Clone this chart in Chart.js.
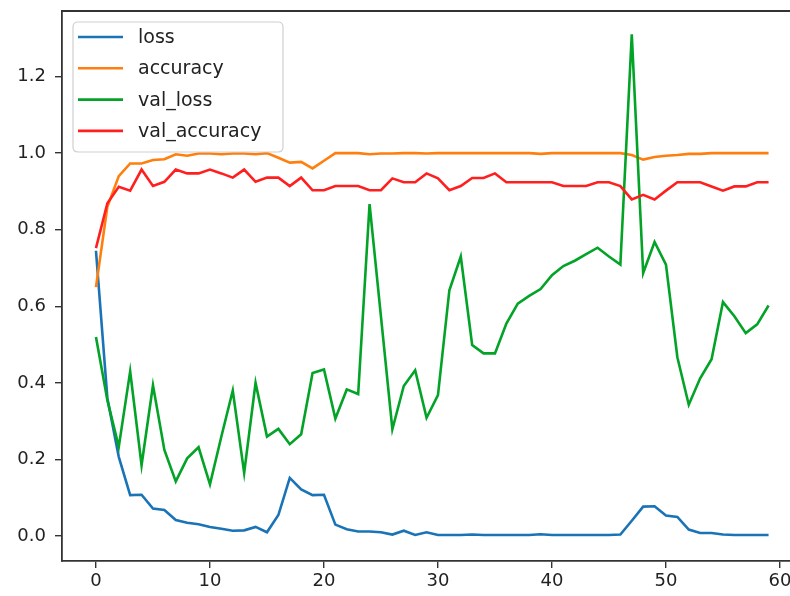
<!DOCTYPE html>
<html>
<head>
<meta charset="utf-8">
<script src="https://cdn.jsdelivr.net/npm/chart.js@4.4.1/dist/chart.umd.min.js"></script>
<style>
html,body{margin:0;padding:0;background:#fff;overflow:hidden;}
#wrap{width:790px;height:596px;position:relative;}
</style>
</head>
<body>
<div id="wrap"><canvas id="c" width="790" height="596"></canvas></div>
<script>
const epochs = Array.from({length:60},(_,i)=>i);
const seriesNames = ['loss','accuracy','val_loss','val_accuracy'];
const loss = [0.745,0.36,0.207,0.107,0.108,0.072,0.068,0.042,0.035,0.031,
  0.024,0.019,0.014,0.015,0.024,0.010,0.055,0.152,0.122,0.107,
  0.108,0.030,0.018,0.012,0.012,0.010,0.004,0.014,0.003,0.010,
  0.003,0.003,0.003,0.004,0.003,0.003,0.003,0.003,0.003,0.005,
  0.003,0.003,0.003,0.003,0.003,0.003,0.004,0.040,0.077,0.078,
  0.054,0.050,0.017,0.008,0.008,0.004,0.003,0.003,0.003,0.003];
const accuracy = [0.65,0.86,0.94,0.973,0.973,0.982,0.984,0.997,0.993,0.999,
  0.999,0.997,0.999,0.999,0.997,1.0,0.988,0.975,0.977,0.96,
  0.98,1.0,1.0,1.0,0.997,0.999,0.999,1.0,1.0,0.999,
  1.0,1.0,1.0,1.0,1.0,1.0,1.0,1.0,1.0,0.998,
  1.0,1.0,1.0,1.0,1.0,1.0,1.0,0.995,0.983,0.99,
  0.993,0.995,0.998,0.998,1.0,1.0,1.0,1.0,1.0,1.0];
const valLoss = [0.52,0.355,0.233,0.43,0.185,0.394,0.225,0.143,0.203,0.232,
  0.135,0.26,0.38,0.165,0.40,0.26,0.28,0.24,0.266,0.426,
  0.435,0.307,0.383,0.371,0.867,0.573,0.279,0.392,0.433,0.309,
  0.368,0.642,0.73,0.499,0.477,0.477,0.555,0.607,0.627,0.645,
  0.681,0.705,0.719,0.736,0.753,0.73,0.709,1.31,0.687,0.768,
  0.709,0.467,0.343,0.412,0.462,0.611,0.574,0.53,0.553,0.602];
const valAccuracy = [0.752,0.869,0.912,0.902,0.957,0.914,0.925,0.957,0.947,0.947,
  0.957,0.947,0.936,0.957,0.925,0.936,0.936,0.914,0.936,0.903,
  0.903,0.914,0.914,0.914,0.903,0.903,0.934,0.924,0.924,0.947,
  0.934,0.903,0.914,0.935,0.935,0.947,0.924,0.924,0.924,0.924,
  0.924,0.914,0.914,0.914,0.924,0.924,0.914,0.879,0.891,0.879,
  0.902,0.924,0.924,0.924,0.913,0.902,0.913,0.913,0.924,0.924];
const xTickValues = [0,10,20,30,40,50,60];
const yTickValues = [0.0,0.2,0.4,0.6,0.8,1.0,1.2];

const colors = ['#1a73b6','#ff7f0e','#03a327','#ff1f1f'];
const allSeries = [loss, accuracy, valLoss, valAccuracy];

const datasets = allSeries.map((vals,k)=>({
  label: seriesNames[k],
  data: vals.map((v,i)=>({x:epochs[i], y:v})),
  borderColor: colors[k],
  backgroundColor: colors[k],
  borderWidth: 2.6,
  pointRadius: 0,
  tension: 0,
  fill: false,
  order: 3-k
}));

const frame = {
  id:'frame',
  afterDatasetsDraw(chart){
    const {ctx, chartArea:a} = chart;
    ctx.save();
    ctx.strokeStyle = '#333';
    ctx.lineWidth = 1.8;
    ctx.beginPath();
    ctx.moveTo(a.left, a.top);
    ctx.lineTo(a.right, a.top);
    ctx.stroke();
    // legend
    const bx = a.left + 11, by = a.top + 11, bw = 210, bh = 130;
    ctx.fillStyle = 'rgba(255,255,255,0.85)';
    ctx.strokeStyle = '#d0d0d0';
    ctx.lineWidth = 1.2;
    const r = 5;
    ctx.beginPath();
    ctx.moveTo(bx+r,by);
    ctx.lineTo(bx+bw-r,by); ctx.quadraticCurveTo(bx+bw,by,bx+bw,by+r);
    ctx.lineTo(bx+bw,by+bh-r); ctx.quadraticCurveTo(bx+bw,by+bh,bx+bw-r,by+bh);
    ctx.lineTo(bx+r,by+bh); ctx.quadraticCurveTo(bx,by+bh,bx,by+bh-r);
    ctx.lineTo(bx,by+r); ctx.quadraticCurveTo(bx,by,bx+r,by);
    ctx.closePath();
    ctx.fill(); ctx.stroke();
    ctx.font = '19px "DejaVu Sans"';
    ctx.textBaseline = 'middle';
    ctx.textAlign = 'left';
    chart.data.datasets.forEach((ds,k)=>{
      const y = by + 15 + k*31.3;
      ctx.strokeStyle = ds.borderColor;
      ctx.lineWidth = 2.6;
      ctx.beginPath();
      ctx.moveTo(bx+5, y); ctx.lineTo(bx+50, y);
      ctx.stroke();
      ctx.fillStyle = '#222';
      ctx.fillText(ds.label, bx+65, y+1);
    });
    ctx.restore();
  }
};

new Chart(document.getElementById('c'), {
  type:'line',
  data:{datasets},
  options:{
    responsive:false,
    animation:false,
    devicePixelRatio:1,
    layout:{padding:{top:11,right:0,left:0,bottom:0}},
    plugins:{legend:{display:false}, tooltip:{enabled:false}},
    scales:{
      x:{
        type:'linear',
        min:-2.98, max:60.88,
        afterBuildTicks(s){ s.ticks = xTickValues.map(v=>({value:v})); },
        afterFit(s){ s.height = 35; s.paddingLeft = 0; s.paddingRight = 0; },
        grid:{drawOnChartArea:false, drawTicks:true, tickLength:7, color:'#333', lineWidth:1.4},
        border:{display:true, color:'#333', width:1.8},
        ticks:{color:'#222', font:{family:'DejaVu Sans', size:18}, padding:3, maxRotation:0,
          callback:v=>String(v)}
      },
      y:{
        type:'linear',
        min:-0.065, max:1.371,
        afterBuildTicks(s){ s.ticks = yTickValues.map(v=>({value:v})); },
        afterFit(s){ s.width = 62; s.paddingTop = 0; s.paddingBottom = 0; },
        grid:{drawOnChartArea:false, drawTicks:true, tickLength:7, color:'#333', lineWidth:1.4},
        border:{display:true, color:'#333', width:1.8},
        ticks:{color:'#222', font:{family:'DejaVu Sans', size:18}, padding:9,
          callback:v=>Number(v).toFixed(1)}
      }
    }
  },
  plugins:[frame]
});
</script>
</body>
</html>
